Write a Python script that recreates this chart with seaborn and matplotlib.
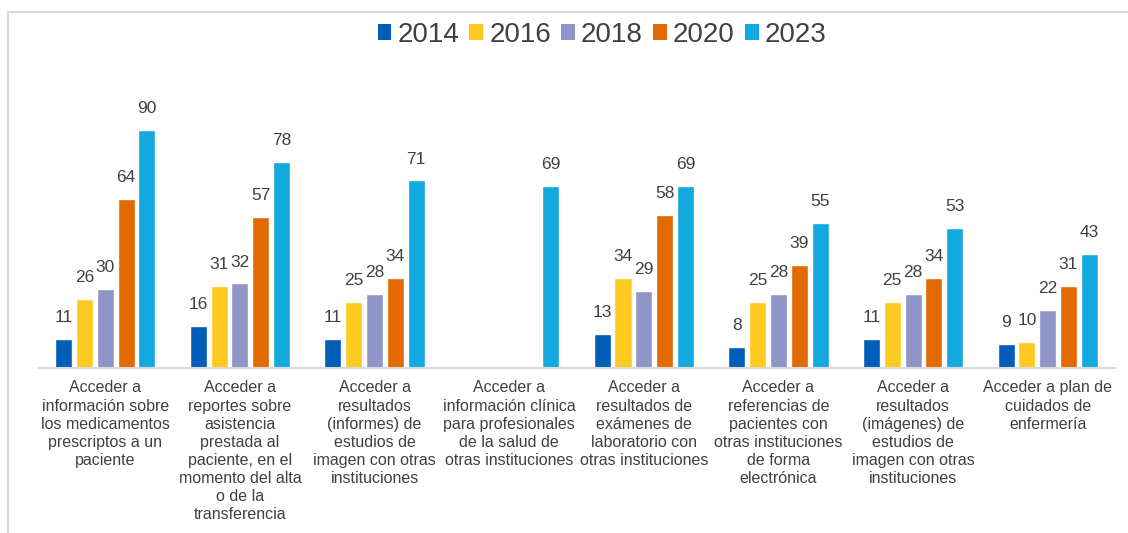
import numpy as np
import pandas as pd
import matplotlib
matplotlib.use("Agg")
import matplotlib.pyplot as plt
from matplotlib.lines import Line2D
from matplotlib.patches import Patch
import seaborn as sns

# Categories (x axis), wrapped as printed
categories = [
    "Acceder a\ninformación sobre\nlos medicamentos\nprescriptos a un\npaciente",
    "Acceder a\nreportes sobre\nasistencia\nprestada al\npaciente, en el\nmomento del alta\no de la\ntransferencia",
    "Acceder a\nresultados\n(informes) de\nestudios de\nimagen con otras\ninstituciones",
    "Acceder a\ninformación clínica\npara profesionales\nde la salud de\notras instituciones",
    "Acceder a\nresultados de\nexámenes de\nlaboratorio con\notras instituciones",
    "Acceder a\nreferencias de\npacientes con\notras instituciones\nde forma\nelectrónica",
    "Acceder a\nresultados\n(imágenes) de\nestudios de\nimagen con otras\ninstituciones",
    "Acceder a plan de\ncuidados de\nenfermería",
]

years = ["2014", "2016", "2018", "2020", "2023"]

# Percentages per year (None = not surveyed)
v2014 = [11, 16, 11, None, 13, 8, 11, 9]
v2016 = [26, 31, 25, None, 34, 25, 25, 10]
v2018 = [30, 32, 28, None, 29, 28, 28, 22]
v2020 = [64, 57, 34, None, 58, 39, 34, 31]
v2023 = [90, 78, 71, 69, 69, 55, 53, 43]

colors = ["#005EB8", "#FFCA1F", "#8F95C9", "#E36A00", "#14A9DE"]

series = dict(zip(years, [v2014, v2016, v2018, v2020, v2023]))
rows = []
for yr, vals in series.items():
    for cat, v in zip(categories, vals):
        if v is not None:
            rows.append({"cat": cat, "year": yr, "val": v})
df = pd.DataFrame(rows)

sns.set_theme(style="white")
plt.rcParams["font.family"] = ["Liberation Sans", "DejaVu Sans"]
text_color = "#404040"

fig = plt.figure(figsize=(11.28, 5.33), dpi=100)
ax = fig.add_axes([0.0337, 0.3096, 0.9548, 0.4957])

sns.barplot(data=df, x="cat", y="val", hue="year", order=categories,
            hue_order=years, palette=colors, width=0.773, gap=0.18,
            saturation=1, ax=ax, legend=False)

for cont in ax.containers:
    ax.bar_label(cont, fmt="%d", padding=10, fontsize=12.5, color=text_color)

ax.set_ylim(0, 100)
ax.set_xlim(-0.5, len(categories) - 0.5)
ax.set_xlabel("")
ax.set_ylabel("")
ax.set_yticks([])
ax.tick_params(axis="x", length=0, pad=9, labelsize=11.5, labelcolor=text_color)
for lab in ax.get_xticklabels():
    lab.set_verticalalignment("top")
    lab.set_horizontalalignment("center")
    lab.set_linespacing(1.26)
for side in ["top", "left", "right"]:
    ax.spines[side].set_visible(False)
ax.spines["bottom"].set_color("#D9D9D9")
ax.spines["bottom"].set_linewidth(1.5)

handles = [Patch(facecolor=c, edgecolor="none") for c in colors]
fig.legend(handles, years, loc="center", bbox_to_anchor=(602 / 1128, 1 - 35 / 533),
           ncol=5, frameon=False, fontsize=20, handlelength=0.5, handleheight=0.5,
           handletextpad=0.22, columnspacing=0.36, labelcolor=text_color)

# Thin frame along the top and left edges
fig.add_artist(Line2D([8 / 1128, 1.0], [1 - 12 / 533, 1 - 12 / 533],
                      transform=fig.transFigure, color="#D9D9D9", lw=1.5))
fig.add_artist(Line2D([8 / 1128, 8 / 1128], [0.0, 1 - 12 / 533],
                      transform=fig.transFigure, color="#D9D9D9", lw=1.5))

fig.savefig("out.png", dpi=100, facecolor="white")
